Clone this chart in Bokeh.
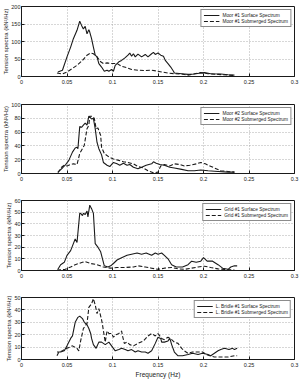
from bokeh.plotting import figure
from bokeh.layouts import column
from bokeh.models import Range1d, FixedTicker, CustomJSTickFormatter, Title
from bokeh.embed import file_html
from bokeh.resources import INLINE

FONT = "Liberation Sans"
INK = "#1a1a1a"

freq_ticks = [0, 0.05, 0.1, 0.15, 0.2, 0.25, 0.3]
y_label = "Tension spectra (kN\u00b2/Hz)"

# --- Moor #1 ---
moor1_surf_f = [0.040, 0.045, 0.050, 0.054, 0.057, 0.061, 0.064, 0.066, 0.068, 0.070,
                0.072, 0.074, 0.075, 0.077, 0.079, 0.081, 0.083, 0.085, 0.088, 0.091,
                0.094, 0.096, 0.099, 0.101, 0.103, 0.107, 0.110, 0.114, 0.117, 0.119,
                0.121, 0.123, 0.125, 0.128, 0.132, 0.136, 0.139, 0.143, 0.145, 0.147,
                0.150, 0.153, 0.156, 0.158, 0.161, 0.164, 0.167, 0.168, 0.176, 0.183,
                0.190, 0.197, 0.201, 0.208, 0.219, 0.227, 0.234]
moor1_surf_s = [13, 18, 56, 84, 108, 132, 158, 146, 136, 143,
                122, 134, 127, 108, 84, 61, 56, 37, 27, 15,
                18, 15, 20, 15, 32, 42, 46, 54, 61, 67,
                58, 65, 56, 64, 56, 63, 56, 65, 69, 63,
                67, 61, 58, 46, 37, 27, 15, 10, 8, 6,
                7, 10, 11, 8, 7, 5, 4]
moor1_sub_f = [0.039, 0.045, 0.050, 0.056, 0.061, 0.067, 0.072, 0.076, 0.079, 0.083,
               0.087, 0.090, 0.094, 0.099, 0.105, 0.110, 0.116, 0.121, 0.128, 0.136,
               0.143, 0.148, 0.154, 0.161, 0.168, 0.176, 0.183, 0.190, 0.197, 0.205,
               0.216, 0.227, 0.234]
moor1_sub_s = [10, 7, 13, 23, 32, 46, 61, 67, 65, 56,
               42, 37, 39, 37, 37, 29, 25, 20, 18, 17,
               18, 16, 13, 10, 8, 7, 4, 8, 11, 8,
               6, 4, 3]

# --- Moor #2 ---
moor2_surf_f = [0.040, 0.045, 0.048, 0.052, 0.056, 0.059, 0.061, 0.062, 0.064, 0.066,
                0.068, 0.070, 0.072, 0.074, 0.075, 0.077, 0.079, 0.081, 0.083, 0.085,
                0.088, 0.090, 0.094, 0.097, 0.101, 0.105, 0.108, 0.112, 0.116, 0.119,
                0.123, 0.128, 0.132, 0.137, 0.143, 0.145, 0.148, 0.152, 0.157, 0.163,
                0.168, 0.176, 0.183, 0.190, 0.197, 0.205, 0.216, 0.227, 0.234]
moor2_surf_s = [2, 8, 12, 19, 31, 37, 38, 36, 68, 67,
                70, 73, 70, 83, 82, 79, 80, 65, 45, 36,
                27, 16, 12, 10, 16, 14, 12, 15, 12, 13,
                9, 7, 9, 12, 14, 17, 15, 13, 12, 9,
                8, 6, 4, 4, 5, 4, 3, 2, 2]
moor2_sub_f = [0.040, 0.044, 0.047, 0.050, 0.054, 0.057, 0.061, 0.064, 0.067, 0.069,
               0.072, 0.074, 0.075, 0.078, 0.080, 0.082, 0.084, 0.087, 0.088, 0.091,
               0.096, 0.101, 0.107, 0.112, 0.117, 0.123, 0.128, 0.134, 0.139, 0.145,
               0.150, 0.153, 0.157, 0.163, 0.168, 0.174, 0.179, 0.185, 0.192, 0.197,
               0.202, 0.207, 0.212, 0.219, 0.227, 0.234]
moor2_sub_s = [1, 9, 12, 11, 13, 14, 13, 29, 36, 41,
               65, 70, 83, 83, 80, 65, 66, 55, 38, 29,
               24, 21, 19, 17, 16, 14, 10, 8, 4, 1,
               2, 11, 13, 11, 14, 13, 11, 12, 14, 16,
               14, 11, 8, 4, 3, 2]

# --- Grid #1 ---
grid_surf_f = [0.040, 0.043, 0.047, 0.050, 0.054, 0.057, 0.059, 0.061, 0.064, 0.065,
               0.067, 0.068, 0.070, 0.072, 0.073, 0.075, 0.077, 0.079, 0.081, 0.084,
               0.087, 0.089, 0.091, 0.095, 0.098, 0.101, 0.105, 0.110, 0.116, 0.121,
               0.127, 0.132, 0.137, 0.143, 0.147, 0.150, 0.154, 0.157, 0.161, 0.165,
               0.170, 0.177, 0.183, 0.187, 0.192, 0.197, 0.200, 0.204, 0.210, 0.216,
               0.221, 0.227, 0.230, 0.234, 0.237]
grid_surf_s = [1, 5, 7, 13, 17, 23, 27, 24, 49, 49,
               47, 49, 48, 51, 46, 56, 53, 49, 23, 20,
               16, 10, 4, 3, 4, 6, 9, 11, 13, 14,
               15, 14, 15, 13, 15, 14, 15, 13, 10, 5,
               3, 3, 5, 8, 7, 8, 11, 8, 8, 5,
               2, 1, 3, 4, 4]
grid_sub_f = [0.039, 0.048, 0.054, 0.059, 0.067, 0.070, 0.076, 0.083, 0.090, 0.098,
              0.105, 0.114, 0.123, 0.128, 0.136, 0.143, 0.150, 0.157, 0.165, 0.172,
              0.179, 0.187, 0.194, 0.201, 0.208, 0.216, 0.223, 0.230, 0.234]
grid_sub_s = [0.3, 1, 3, 5, 7, 7.5, 6, 5, 3, 2,
              2.6, 2.6, 3, 4, 3, 2, 1, 2, 2.6, 1.4,
              1, 2, 3, 3.7, 2.6, 1.4, 1, 0.6, 0.3]

# --- L. Bridle #1 ---
bridle_surf_f = [0.039, 0.043, 0.047, 0.050, 0.054, 0.056, 0.059, 0.062, 0.064, 0.067,
                 0.069, 0.072, 0.074, 0.076, 0.077, 0.079, 0.082, 0.085, 0.088, 0.092,
                 0.096, 0.099, 0.103, 0.107, 0.110, 0.114, 0.117, 0.121, 0.125, 0.128,
                 0.132, 0.136, 0.139, 0.143, 0.147, 0.150, 0.153, 0.154, 0.157, 0.161,
                 0.163, 0.165, 0.168, 0.172, 0.177, 0.183, 0.188, 0.194, 0.199, 0.205,
                 0.208, 0.212, 0.216, 0.219, 0.223, 0.228, 0.232, 0.234, 0.237]
bridle_surf_s = [6, 6, 7, 11, 17, 19, 30, 34, 35, 33,
                 30, 28, 25, 21, 17, 12, 9, 14, 14, 12,
                 14, 11, 7, 8, 9, 8, 7, 8, 6, 7,
                 6, 6, 5, 7, 13, 18, 17, 14, 14, 15,
                 17, 12, 6, 3, 3, 4, 5, 4, 5, 4,
                 3, 5, 7, 8, 9, 8, 9, 8, 9]
bridle_sub_f = [0.039, 0.041, 0.045, 0.050, 0.056, 0.061, 0.063, 0.065, 0.068, 0.072,
                0.074, 0.077, 0.079, 0.081, 0.083, 0.085, 0.088, 0.089, 0.092, 0.094,
                0.096, 0.099, 0.101, 0.104, 0.107, 0.110, 0.111, 0.113, 0.116, 0.119,
                0.123, 0.128, 0.134, 0.139, 0.143, 0.147, 0.150, 0.154, 0.157, 0.161,
                0.165, 0.168, 0.172, 0.176, 0.179, 0.183, 0.188, 0.194, 0.199, 0.203,
                0.207, 0.212, 0.219, 0.227, 0.234, 0.237]
bridle_sub_s = [3, 6, 7, 9, 11, 9, 7, 15, 25, 29,
                42, 45, 49, 44, 37, 41, 32, 28, 14, 23,
                21, 21, 18, 20, 21, 23, 19, 13, 14, 12,
                11, 13, 15, 19, 21, 19, 21, 17, 16, 18,
                16, 14, 13, 9, 7, 5, 6, 6, 6, 4,
                3, 2, 2, 2, 3, 3]

panels = [
    dict(name="Moor #1", ymax=200, yticks=[0, 50, 100, 150, 200],
         surf=(moor1_surf_f, moor1_surf_s), sub=(moor1_sub_f, moor1_sub_s),
         top=6, bottom=19, xlabel=None),
    dict(name="Moor #2", ymax=100, yticks=[0, 20, 40, 60, 80, 100],
         surf=(moor2_surf_f, moor2_surf_s), sub=(moor2_sub_f, moor2_sub_s),
         top=9, bottom=17, xlabel=None),
    dict(name="Grid #1", ymax=60, yticks=[0, 10, 20, 30, 40, 50, 60],
         surf=(grid_surf_f, grid_surf_s), sub=(grid_sub_f, grid_sub_s),
         top=10, bottom=15, xlabel=None),
    dict(name="L. Bridle #1", ymax=50, yticks=[0, 10, 20, 30, 40, 50],
         surf=(bridle_surf_f, bridle_surf_s), sub=(bridle_sub_f, bridle_sub_s),
         top=12, bottom=15, xlabel="Frequency (Hz)"),
]


def make_panel(cfg):
    p = figure(width=300, height=95, output_backend="svg", toolbar_location=None,
               x_range=Range1d(0, 0.3), y_range=Range1d(0, cfg["ymax"]),
               min_border_left=19, min_border_right=6,
               min_border_top=cfg["top"], min_border_bottom=cfg["bottom"],
               background_fill_color="white", border_fill_color="white")
    p.outline_line_color = INK
    p.outline_line_width = 1

    for ax in (p.xaxis[0], p.yaxis[0]):
        ax.major_tick_in = 3
        ax.major_tick_out = 0
        ax.minor_tick_in = 0
        ax.minor_tick_out = 0
        ax.minor_tick_line_color = None
        ax.axis_line_color = INK
        ax.major_tick_line_color = INK
        ax.major_label_text_font = FONT
        ax.major_label_text_font_size = "5.5px"
        ax.major_label_text_color = INK
        ax.axis_label_text_font = FONT
        ax.axis_label_text_font_style = "normal"
        ax.axis_label_text_color = INK

    p.xaxis.major_label_standoff = 3
    p.yaxis.major_label_standoff = 1
    p.xaxis.axis_label_text_font_size = "6.5px"

    p.xaxis.ticker = FixedTicker(ticks=freq_ticks)
    p.xaxis.formatter = CustomJSTickFormatter(code="return tick.toString();")
    p.yaxis.ticker = FixedTicker(ticks=cfg["yticks"])
    if cfg["xlabel"]:
        p.xaxis.axis_label = cfg["xlabel"]
        p.xaxis.axis_label_standoff = 1

    # vertical axis title, stacked outside the tick labels
    p.add_layout(Title(text=y_label, align="center", text_font=FONT,
                       text_font_size="6px", text_font_style="normal",
                       text_color=INK, standoff=0, offset=0), "left")

    p.grid.grid_line_color = "#9a9a9a"
    p.grid.grid_line_dash = "1 2"
    p.grid.grid_line_width = 0.8

    p.line(cfg["surf"][0], cfg["surf"][1], line_color=INK, line_width=1.1,
           legend_label=f"{cfg['name']} Surface Spectrum")
    p.line(cfg["sub"][0], cfg["sub"][1], line_color=INK, line_width=1.1,
           line_dash="4 2", legend_label=f"{cfg['name']} Submerged Spectrum")

    lg = p.legend[0]
    lg.location = "top_right"
    lg.margin = 3
    lg.padding = 2
    lg.spacing = 0
    lg.label_height = 6
    lg.glyph_height = 6
    lg.glyph_width = 16
    lg.label_standoff = 3
    lg.label_text_font = FONT
    lg.label_text_font_size = "4.8px"
    lg.label_text_color = INK
    lg.border_line_color = INK
    lg.border_line_width = 0.8
    lg.background_fill_alpha = 1
    return p


layout = column([make_panel(c) for c in panels], spacing=0)

open("out.html", "w").write(file_html(layout, INLINE))
